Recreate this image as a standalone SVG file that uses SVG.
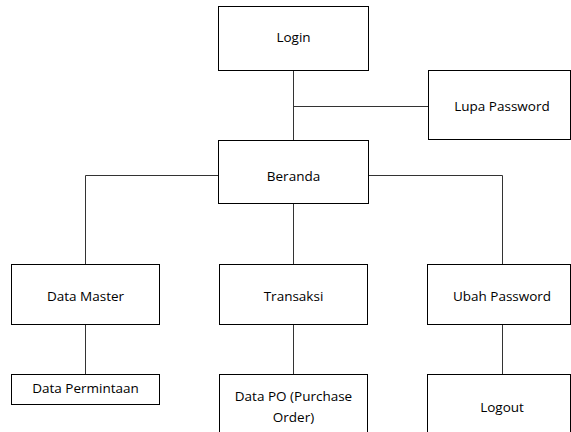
<svg xmlns="http://www.w3.org/2000/svg" width="571" height="432" viewBox="0 0 571 432">
<style>
.box{fill:#fff;stroke:#000;stroke-width:1}
.lbl{font-family:"Open Sans","Liberation Sans",sans-serif;font-size:13.5px;fill:#000;text-anchor:middle;dominant-baseline:central}
.con{fill:none;stroke:#333;stroke-width:1}
</style>
<rect width="571" height="432" fill="#fff"/>
<g id="connectors">
<path class="con" d="M293.5 70V140"/>
<path class="con" d="M293.5 106.5H428"/>
<path class="con" d="M218 175.5H85.5V264"/>
<path class="con" d="M368 175.5H502.5V264"/>
<path class="con" d="M293.5 203V264"/>
<path class="con" d="M85.5 324V374"/>
<path class="con" d="M293.5 324V374"/>
<path class="con" d="M502.5 324V374"/>
</g>
<g id="login"><rect class="box" x="218.5" y="6.5" width="150" height="64"/><text class="lbl" x="293.5" y="37">Login</text></g>
<g id="lupa-password"><rect class="box" x="428.5" y="70.5" width="142" height="69"/><text class="lbl" x="502" y="106">Lupa Password</text></g>
<g id="beranda"><rect class="box" x="218.5" y="140.5" width="150" height="63"/><text class="lbl" x="293.5" y="176">Beranda</text></g>
<g id="data-master"><rect class="box" x="11.5" y="264.5" width="148" height="60"/><text class="lbl" x="85.5" y="296">Data Master</text></g>
<g id="transaksi"><rect class="box" x="219.5" y="264.5" width="148" height="60"/><text class="lbl" x="293.5" y="296">Transaksi</text></g>
<g id="ubah-password"><rect class="box" x="427.5" y="264.5" width="143" height="60"/><text class="lbl" x="502" y="296">Ubah Password</text></g>
<g id="data-permintaan"><rect class="box" x="11.5" y="374.5" width="148" height="30"/><text class="lbl" x="85.5" y="388">Data Permintaan</text></g>
<g id="data-po"><rect class="box" x="219.5" y="374.5" width="148" height="70"/><text class="lbl" x="293.5" y="396">Data PO (Purchase</text><text class="lbl" x="293.5" y="417">Order)</text></g>
<g id="logout"><rect class="box" x="427.5" y="374.5" width="143" height="70"/><text class="lbl" x="502" y="407">Logout</text></g>
</svg>
